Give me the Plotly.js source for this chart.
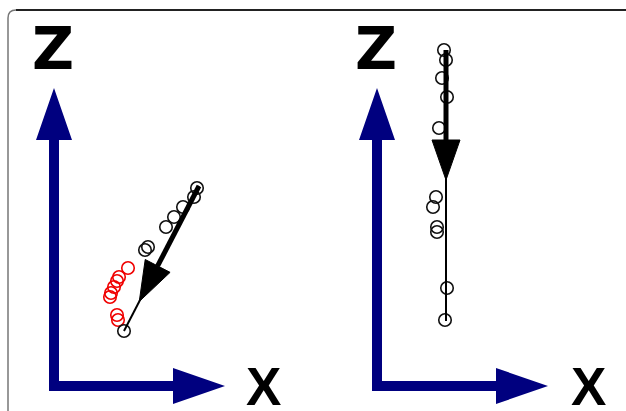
<!DOCTYPE html>
<html>
<head>
<meta charset="utf-8">
<script src="https://cdn.plot.ly/plotly-3.0.1.min.js"></script>
<style>
  html, body { margin: 0; padding: 0; background: #fff; }
  #plot { width: 626px; height: 411px; }
</style>
</head>
<body>
<div id="plot"></div>
<script>
// values, origin at the corner of each blue axis
// left panel
var leftBlackX = [143, 140, 129, 120, 112, 94, 91, 70];
var leftBlackZ = [198, 189, 179, 169, 159, 139, 136, 55];
var leftRedX = [74, 65, 63, 60, 57, 56, 63, 64];
var leftRedZ = [118, 109, 105, 99, 93, 89, 71, 66];
var leftFitX = [145, 70];
var leftFitZ = [200, 55];

// right panel
var rightBlackX = [67, 69, 65, 70, 62, 59, 56, 60, 60, 70, 68];
var rightBlackZ = [336, 326, 308, 289, 258, 189, 179, 159, 154, 98, 66];
var rightFitX = [69, 69];
var rightFitZ = [336, 65];

var axisLabels = ['Z', 'X'];

var navy = '#00007f';
var arrowLen = 130, headLen = 40, headHalf = 14;

// fitted direction drawn as thin line + thick arrow with head
function fitTraces(fx, fz, xa) {
    var dx = fx[1] - fx[0], dz = fz[1] - fz[0];
    var len = Math.sqrt(dx * dx + dz * dz);
    var ux = dx / len, uz = dz / len;
    var tipX = fx[0] + ux * arrowLen, tipZ = fz[0] + uz * arrowLen;
    var bX = tipX - ux * headLen, bZ = tipZ - uz * headLen;
    var px = -uz, pz = ux;
    return [
        { type: 'scatter', mode: 'lines', x: fx, y: fz, xaxis: xa, yaxis: 'y',
          line: { color: '#000', width: 2 }, hoverinfo: 'skip' },
        { type: 'scatter', mode: 'lines', x: [fx[0], bX], y: [fz[0], bZ], xaxis: xa, yaxis: 'y',
          line: { color: '#000', width: 5 }, hoverinfo: 'skip' },
        { type: 'scatter', mode: 'lines', fill: 'toself', fillcolor: '#000',
          x: [bX + px * headHalf, tipX, bX - px * headHalf, bX + px * headHalf],
          y: [bZ + pz * headHalf, tipZ, bZ - pz * headHalf, bZ + pz * headHalf],
          xaxis: xa, yaxis: 'y', line: { color: '#000', width: 1 }, hoverinfo: 'skip' }
    ];
}

function circles(x, z, col, xa) {
    return { type: 'scatter', mode: 'markers', x: x, y: z, xaxis: xa, yaxis: 'y',
        marker: { symbol: 'circle-open', size: 12.5, color: col, line: { width: 1.6, color: col } } };
}

var data = [
    circles(leftRedX, leftRedZ, '#f00000', 'x'),
    circles(leftBlackX, leftBlackZ, '#111', 'x'),
    circles(rightBlackX, rightBlackZ, '#111', 'x2')
].concat(fitTraces(leftFitX, leftFitZ, 'x'), fitTraces(rightFitX, rightFitZ, 'x2'));

// blue Z / X axes as filled arrows
function axisShapes(xa) {
    return [
        { type: 'path', xref: xa, yref: 'y', fillcolor: navy, line: { width: 0 },
          path: 'M -5 -5 L 119 -5 L 119 -18 L 171 0 L 119 18 L 119 5 L 5 5 L 5 246 L 18 246 L 0 298 L -18 246 L -5 246 Z' }
    ];
}

var W = 626, H = 411;
var bx = 8 / W, by = 1 - 10 / H, r = 8;
var frame = [
    { type: 'path', xref: 'paper', yref: 'paper', line: { color: '#777', width: 1.5 },
      path: 'M ' + bx + ' 0 L ' + bx + ' ' + (by - r / H) + ' Q ' + bx + ' ' + by + ' ' + (bx + r / W) + ' ' + by },
    { type: 'line', xref: 'paper', yref: 'paper', x0: bx + r / W, x1: 1, y0: by, y1: by,
      line: { color: '#222', width: 1.8 } }
];

function label(txt, xa, x, z, fam) {
    return { xref: xa, yref: 'y', x: x, y: z, text: txt, showarrow: false,
        xanchor: 'center', yanchor: 'middle',
        font: { family: fam, size: txt == 'Z' ? 58 : 53, color: '#000', weight: 'bold' } };
}

var noAxis = { showgrid: false, zeroline: false, showticklabels: false, showline: false, ticks: '', fixedrange: true };

var layout = {
    width: W, height: H,
    margin: { l: 0, r: 0, t: 0, b: 0 },
    paper_bgcolor: '#fff', plot_bgcolor: 'rgba(0,0,0,0)',
    showlegend: false,
    xaxis: Object.assign({ domain: [0, 0.5], range: [-54, 259] }, noAxis),
    xaxis2: Object.assign({ domain: [0.5, 1], range: [-64, 249], anchor: 'y' }, noAxis),
    yaxis: Object.assign({ domain: [0, 1], range: [-25, 386] }, noAxis),
    shapes: frame.concat(axisShapes('x'), axisShapes('x2')),
    annotations: [
        label(axisLabels[0], 'x', -1, 337, 'DejaVu Sans'),
        label(axisLabels[1], 'x', 209, 0, 'Liberation Sans'),
        label(axisLabels[0], 'x2', -1, 337, 'DejaVu Sans'),
        label(axisLabels[1], 'x2', 211, 0, 'Liberation Sans')
    ]
};

Plotly.newPlot('plot', data, layout, { displayModeBar: false, staticPlot: true });
</script>
</body>
</html>
